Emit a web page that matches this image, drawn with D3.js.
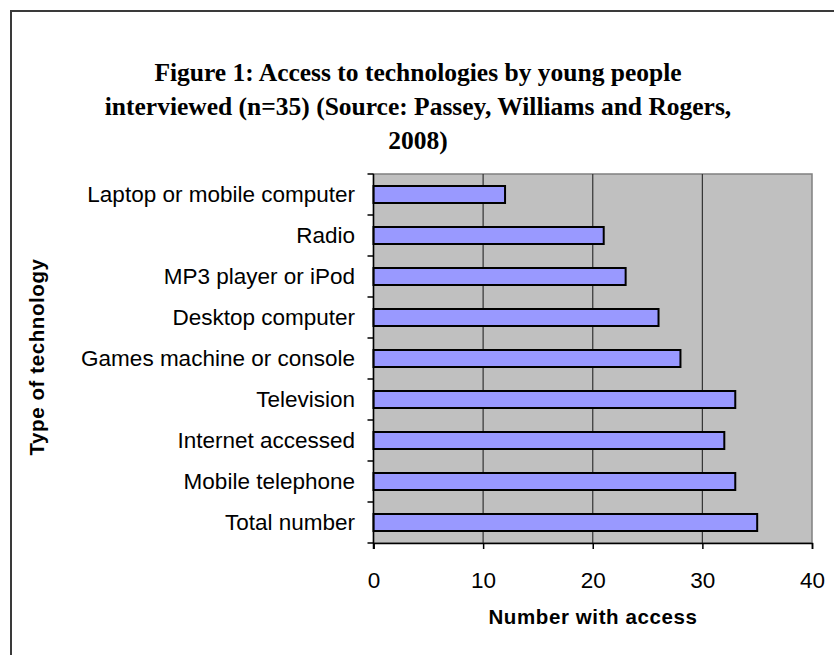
<!DOCTYPE html>
<html lang="en">
<head>
    <meta charset="UTF-8">
    <title>Access to technologies</title>
    <script src="https://cdnjs.cloudflare.com/ajax/libs/d3/7.8.5/d3.min.js"></script>
    <style>
        body { margin: 0; background: #fff; }
        svg { display: block; }
    </style>
</head>
<body>
    <div id="chart"></div>
    <script>
        // data (top to bottom)
        var categories = ['Laptop or mobile computer', 'Radio', 'MP3 player or iPod',
                          'Desktop computer', 'Games machine or console', 'Television',
                          'Internet accessed', 'Mobile telephone', 'Total number'];
        var values = [12, 21, 23, 26, 28, 33, 32, 33, 35];
        var xTicks = [0, 10, 20, 30, 40];
        var titleLines = ['Figure 1: Access to technologies by young people',
                          'interviewed (n=35) (Source: Passey, Williams and Rogers,',
                          '2008)'];

        var w = 834,
            h = 655,
            plot = {left: 373.5, top: 174, right: 812, bottom: 543},
            sans = '"Liberation Sans", Arial, sans-serif',
            svg = d3.select('#chart')
                        .append('svg')
                        .attr('width', w)
                        .attr('height', h);

        // outer frame (only left and top edges visible)
        svg.append('path')
            .attr('d', 'M11,' + h + 'V11H' + w)
            .attr('fill', 'none')
            .attr('stroke', '#3a3a3a')
            .attr('stroke-width', 2);

        // title
        svg.append('g').selectAll('text')
            .data(titleLines)
            .enter()
            .append('text')
            .attr('x', 418)
            .attr('y', (d, i) => 81 + i * 34)
            .attr('text-anchor', 'middle')
            .style('font-family', '"Liberation Serif", "Times New Roman", serif')
            .style('font-weight', 'bold')
            .style('font-size', '25.5px')
            .text((d) => d);

        var xScale = d3.scaleLinear()
                    .domain([0, 40])
                    .range([plot.left, plot.right]);
        var yScale = d3.scaleBand()
                    .domain(categories)
                    .range([plot.top, plot.bottom]);
        var barH = 17;

        // plot background
        svg.append('rect')
            .attr('x', plot.left)
            .attr('y', plot.top)
            .attr('width', plot.right - plot.left)
            .attr('height', plot.bottom - plot.top)
            .attr('fill', '#c0c0c0')
            .attr('stroke', '#808080')
            .attr('stroke-width', 1.5);

        // gridlines
        svg.append('g').selectAll('line')
            .data(xTicks.slice(1, -1))
            .enter()
            .append('line')
            .attr('x1', (d) => xScale(d))
            .attr('x2', (d) => xScale(d))
            .attr('y1', plot.top)
            .attr('y2', plot.bottom)
            .attr('stroke', '#333')
            .attr('stroke-width', 1.2);

        // BARS
        svg.append('g').selectAll('rect')
            .data(values)
            .enter()
            .append('rect')
            .attr('x', xScale(0))
            .attr('y', (d, i) => yScale(categories[i]) + (yScale.bandwidth() - barH) / 2)
            .attr('width', (d) => xScale(d) - xScale(0))
            .attr('height', barH)
            .attr('fill', '#9999ff')
            .attr('stroke', '#000')
            .attr('stroke-width', 2);

        // X-AXIS
        var xAxis = d3.axisBottom(xScale).tickValues(xTicks).tickSize(6).tickPadding(23);
        var gx = svg.append('g')
            .attr('transform', 'translate(0,' + plot.bottom + ')')
            .call(xAxis);
        gx.select('.domain').attr('stroke', '#000').attr('stroke-width', 1.5);
        gx.selectAll('.tick line').attr('stroke', '#000').attr('stroke-width', 1.5);
        gx.selectAll('text')
            .attr('fill', '#000')
            .style('font-family', sans)
            .style('font-size', '22.5px');

        // Y-AXIS (ticks at band edges)
        svg.append('line')
            .attr('x1', plot.left).attr('x2', plot.left)
            .attr('y1', plot.top).attr('y2', plot.bottom + 6)
            .attr('stroke', '#000')
            .attr('stroke-width', 1.5);
        var edges = categories.map((c) => yScale(c)).concat([plot.bottom]);
        svg.append('g').selectAll('line')
            .data(edges)
            .enter()
            .append('line')
            .attr('x1', plot.left - 6)
            .attr('x2', plot.left)
            .attr('y1', (d) => d)
            .attr('y2', (d) => d)
            .attr('stroke', '#000')
            .attr('stroke-width', 1.5);
        svg.append('g').selectAll('text')
            .data(categories)
            .enter()
            .append('text')
            .attr('x', 355)
            .attr('y', (d) => yScale(d) + yScale.bandwidth() / 2)
            .attr('dy', '0.35em')
            .attr('text-anchor', 'end')
            .style('font-family', sans)
            .style('font-size', '22.5px')
            .text((d) => d);

        // axis titles
        svg.append('text')
            .attr('x', 593)
            .attr('y', 624)
            .attr('text-anchor', 'middle')
            .style('font-family', sans)
            .style('font-weight', 'bold')
            .style('font-size', '20.5px')
            .style('letter-spacing', '0.6px')
            .text('Number with access');
        svg.append('text')
            .attr('transform', 'translate(44,357) rotate(-90)')
            .attr('text-anchor', 'middle')
            .style('font-family', sans)
            .style('font-weight', 'bold')
            .style('font-size', '20.5px')
            .style('letter-spacing', '0.6px')
            .text('Type of technology');
    </script>
</body>
</html>
